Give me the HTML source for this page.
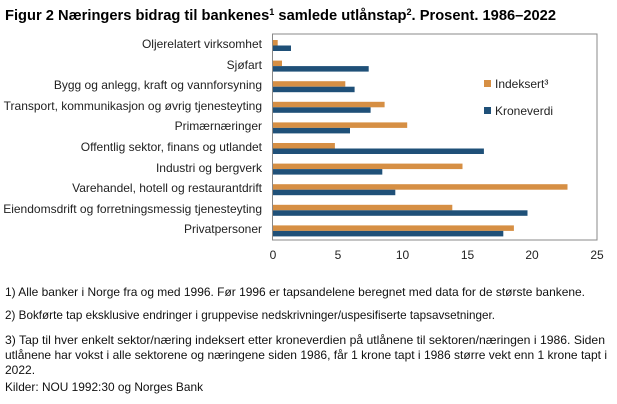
<!DOCTYPE html>
<html><head><meta charset="utf-8"><style>
html,body{margin:0;padding:0;background:#fff;}
svg{display:block;font-family:"Liberation Sans",Arial,sans-serif;}
</style></head><body>
<svg width="617" height="404" viewBox="0 0 617 404" xmlns="http://www.w3.org/2000/svg">
<text x="5" y="20" font-size="14.5" font-weight="bold" fill="#000" textLength="551" lengthAdjust="spacingAndGlyphs">Figur 2 Næringers bidrag til bankenes<tspan font-size="9" dy="-5">1</tspan><tspan dy="5"> samlede utlånstap</tspan><tspan font-size="9" dy="-5">2</tspan><tspan dy="5">. Prosent. 1986–2022</tspan></text>
<rect x="272.5" y="34" width="324.5" height="206" fill="none" stroke="#888" stroke-width="1"/>
<g font-size="12" fill="#222" text-anchor="end">
<text x="262" y="48">Oljerelatert virksomhet</text>
<text x="262" y="69">Sjøfart</text>
<text x="262" y="89">Bygg og anlegg, kraft og vannforsyning</text>
<text x="262" y="110">Transport, kommunikasjon og øvrig tjenesteyting</text>
<text x="262" y="130">Primærnæringer</text>
<text x="262" y="151">Offentlig sektor, finans og utlandet</text>
<text x="262" y="172">Industri og bergverk</text>
<text x="262" y="192">Varehandel, hotell og restaurantdrift</text>
<text x="262" y="213">Eiendomsdrift og forretningsmessig tjenesteyting</text>
<text x="262" y="233">Privatpersoner</text>
</g>
<g font-size="12" fill="#222" text-anchor="middle">
<text x="273" y="259">0</text><text x="338" y="259">5</text><text x="402.5" y="259">10</text><text x="467.5" y="259">15</text><text x="532" y="259">20</text><text x="597" y="259">25</text>
</g>
<g fill="#d68f44">
<rect x="273" y="40" width="4.7" height="5.5"/>
<rect x="273" y="60.6" width="9" height="5.5"/>
<rect x="273" y="81.2" width="72.3" height="5.5"/>
<rect x="273" y="101.8" width="111.6" height="5.5"/>
<rect x="273" y="122.4" width="134.2" height="5.5"/>
<rect x="273" y="143" width="61.9" height="5.5"/>
<rect x="273" y="163.6" width="189.5" height="5.5"/>
<rect x="273" y="184.2" width="294.5" height="5.5"/>
<rect x="273" y="204.8" width="179.3" height="5.5"/>
<rect x="273" y="225.4" width="240.9" height="5.5"/>
</g>
<g fill="#1f5078">
<rect x="273" y="45.5" width="18" height="5.5"/>
<rect x="273" y="66.1" width="95.7" height="5.5"/>
<rect x="273" y="86.7" width="81.6" height="5.5"/>
<rect x="273" y="107.3" width="97.6" height="5.5"/>
<rect x="273" y="127.9" width="77" height="5.5"/>
<rect x="273" y="148.5" width="210.9" height="5.5"/>
<rect x="273" y="169.1" width="109.3" height="5.5"/>
<rect x="273" y="189.7" width="122.3" height="5.5"/>
<rect x="273" y="210.3" width="254.5" height="5.5"/>
<rect x="273" y="230.9" width="230.3" height="5.5"/>
</g>
<g font-size="12" fill="#222">
<rect x="484" y="80" width="7" height="7" fill="#d68f44"/><text x="495" y="88">Indeksert³</text>
<rect x="484" y="107" width="7" height="7" fill="#1f5078"/><text x="495" y="115">Kroneverdi</text>
</g>
<g font-size="12" fill="#111">
<text x="5" y="296" textLength="580" lengthAdjust="spacingAndGlyphs">1) Alle banker i Norge fra og med 1996. Før 1996 er tapsandelene beregnet med data for de største bankene.</text>
<text x="5" y="319" textLength="490" lengthAdjust="spacingAndGlyphs">2) Bokførte tap eksklusive endringer i gruppevise nedskrivninger/uspesifiserte tapsavsetninger.</text>
<text x="5" y="344" textLength="600" lengthAdjust="spacingAndGlyphs">3) Tap til hver enkelt sektor/næring indeksert etter kroneverdien på utlånene til sektoren/næringen i 1986. Siden</text>
<text x="5" y="359" textLength="602" lengthAdjust="spacingAndGlyphs">utlånene har vokst i alle sektorene og næringene siden 1986, får 1 krone tapt i 1986 større vekt enn 1 krone tapt i</text>
<text x="5" y="374">2022.</text>
<text x="5" y="391" textLength="198" lengthAdjust="spacingAndGlyphs">Kilder: NOU 1992:30 og Norges Bank</text>
</g>
</svg>
</body></html>
